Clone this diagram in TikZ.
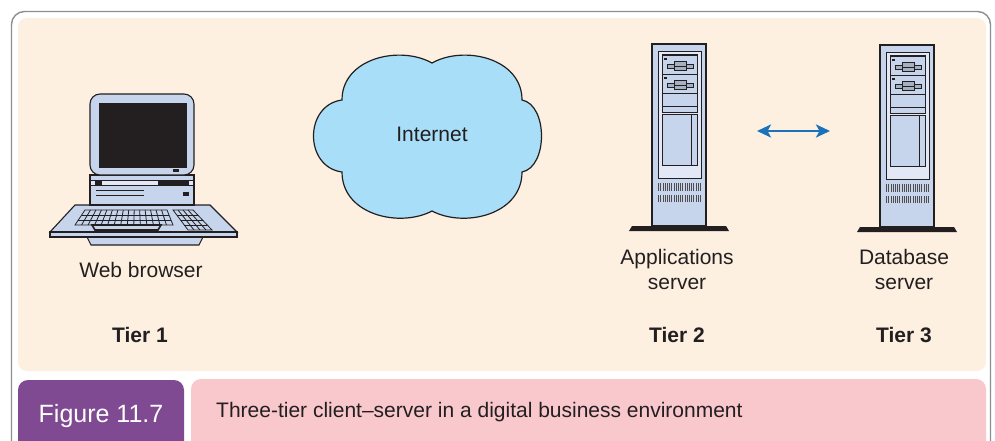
\documentclass[tikz,border=0pt]{standalone}
\usepackage{fontspec}
\setmainfont{Liberation Sans}
\usetikzlibrary{arrows.meta,calc}

\definecolor{frame}{HTML}{8E8E8E}
\definecolor{cream}{HTML}{FDF0E1}
\definecolor{ink}{HTML}{231F20}
\definecolor{figpurple}{HTML}{7F4A91}
\definecolor{capink}{HTML}{F9C8CC}
\definecolor{cloudblue}{HTML}{A8DEF8}
\definecolor{hwbody}{HTML}{C6D4EC}
\definecolor{hwpanel}{HTML}{E2E8F5}
\definecolor{linkblue}{HTML}{1A72BA}

\tikzset{
  label/.style={font=\fontsize{21}{25}\selectfont, text=ink, anchor=base, inner sep=0pt},
  tierlabel/.style={label, font=\fontsize{21}{25}\selectfont\bfseries},
  hw/.style={draw=ink, line width=1.1pt, fill=hwbody},
  hwline/.style={draw=ink, line width=0.9pt},
  keyline/.style={draw=ink, line width=0.8pt},
  vent/.style={draw=ink!80, line width=0.75pt},
  link/.style={draw=linkblue, line width=2.6pt,
    {Stealth[length=14pt,width=13pt,inset=3.5pt]}-{Stealth[length=14pt,width=13pt,inset=3.5pt]}},
  server/.pic={
    % floor plinth
    \fill[ink] (-23,187) -- (-20,182) -- (74,182) -- (77,187) -- cycle;
    % cabinet
    \path[hw] (0,0) rectangle (54,182);
    \path[hwline, fill=hwpanel] (6,7) rectangle (49,134);
    % drive bay
    \path[hwline, fill=hwbody] (10,10) rectangle (45,68);
    \draw[ink, line width=1.6pt] (10,11) -- (45,11);
    \draw[hwline] (10,30) -- (45,30) (10,49) -- (45,49) (10,62) -- (45,62);
    \fill[ink] (12,14) rectangle (15,16.5);
    \fill[ink] (12,33) rectangle (15,35.5);
    \foreach \yy in {20,39} {
      \path[hwline, fill=hwbody!80!ink] (15,\yy) rectangle (41,\yy+4);
      \path[hwline, fill=hwbody!80!ink] (22,\yy-2.5) rectangle (34,\yy+6.5);
      \draw[ink, line width=0.6pt] (22,\yy+2) -- (34,\yy+2);
    }
    % lower door
    \path[hwline, fill=hwbody] (10,70) rectangle (45,121);
    \draw[hwline] (39,70) -- (39,121);
    % ventilation slots
    \foreach \k in {0,...,19} {
      \draw[vent] (6.5+\k*2.2,139) -- (6.5+\k*2.2,147);
      \draw[vent] (6.5+\k*2.2,151) -- (6.5+\k*2.2,158);
    }
  }
}

\begin{document}
\begin{tikzpicture}[x=1pt, y=-1pt]
\clip (0,0) rectangle (995,441);
\fill[white] (0,0) rectangle (995,441);

% outer frame and content panel
\draw[frame, line width=1.4pt, rounded corners=13pt] (11.5,470) -- (11.5,11.5) -- (990.5,11.5) -- (990.5,470);
\fill[cream, rounded corners=9pt] (18,18) rectangle (986,371);

% caption bar
\fill[figpurple, rounded corners=10pt] (18,380) rectangle (184,470);
\fill[capink, rounded corners=10pt] (191,379) rectangle (986,470);
\node[label, text=white, font=\fontsize{25}{30}\selectfont] (figno) at (101,422) {Figure 11.7};
\node[label, anchor=base west] (caption) at (216,417.5) {Three-tier client–server in a digital business environment};

% ---------- Tier 1: desktop computer ----------
% keyboard tray and foot
\path[hw] (87,237) -- (203,237) -- (199,245) -- (91,245) -- cycle;
\path[hw] (75,205) -- (210,205) -- (237,232) -- (50,232) -- cycle;
\path[hw] (50,232) rectangle (237,237);
% main key block
\coordinate (kTL) at (85,210);
\coordinate (kTR) at (167,210);
\coordinate (kBL) at (75,225);
\coordinate (kBR) at (173,225);
\path[keyline, fill=hwbody] (kTL) -- (kTR) -- (kBR) -- (kBL) -- cycle;
\foreach \i in {1,...,14}
  \draw[keyline] ($(kTL)!\i/15!(kTR)$) -- ($(kBL)!\i/15!(kBR)$);
\foreach \j in {1,2}
  \draw[keyline] ($(kTL)!\j/3!(kBL)$) -- ($(kTR)!\j/3!(kBR)$);
\path[draw=ink, line width=1.6pt, fill=hwbody] (92,225) -- (161,225) -- (158,230) -- (95,230) -- cycle;
% numeric keypad
\coordinate (nTL) at (173,210);
\coordinate (nTR) at (193,210);
\coordinate (nBL) at (188,230);
\coordinate (nBR) at (212,230);
\path[keyline, fill=hwbody] (nTL) -- (nTR) -- (nBR) -- (nBL) -- cycle;
\foreach \i in {1,2,3}
  \draw[keyline] ($(nTL)!\i/4!(nTR)$) -- ($(nBL)!\i/4!(nBR)$);
\foreach \j in {1,2,3}
  \draw[keyline] ($(nTL)!\j/4!(nBL)$) -- ($(nTR)!\j/4!(nBR)$);
% system unit
\path[hw] (90,175) rectangle (194,205);
\fill[ink] (90,180) rectangle (194,185.5);
\fill[hwpanel] (91,181) rectangle (95,184.5);
\fill[hwpanel] (102,181) rectangle (158,184.5);
\fill[hwpanel] (189,181) rectangle (193,184.5);
\draw[hwline] (96,190) -- (144,190) (96,195) -- (144,195);
\fill[ink] (183,192) rectangle (189,196);
% monitor
\path[hw, rounded corners=10pt] (90,94) rectangle (194,175);
\path[draw=ink, line width=0.8pt, fill=ink] (99,103) rectangle (186,167);
\fill[ink] (173,169) rectangle (179,172);
\node[label] (browser) at (141,277) {Web browser};
\node[tierlabel] (tier1) at (140,342) {Tier 1};

% ---------- Internet cloud ----------
\path[draw=ink, line width=1.2pt, fill=cloudblue]
  (342,100) .. controls (342,58) and (400,45) .. (432,63)
            .. controls (464,45) and (522,58) .. (522,100)
            .. controls (548,105) and (548,167) .. (522,172)
            .. controls (522,215) and (464,228) .. (432,211)
            .. controls (400,228) and (342,215) .. (342,172)
            .. controls (304,167) and (304,105) .. (342,100) -- cycle;
\node[label] (internet) at (432,141) {Internet};

% ---------- Tier 2 and Tier 3: servers ----------
\pic (appsrv) at (652,44) {server};
\pic (dbsrv) at (880,45) {server};
\node[label] (applbl) at (677,264.5) {Applications};
\node[label] (appsrvlbl) at (677,289.5) {server};
\node[tierlabel] (tier2) at (677,342) {Tier 2};
\node[label] (dblbl) at (904,264.5) {Database};
\node[label] (dbsrvlbl) at (904,289.5) {server};
\node[tierlabel] (tier3) at (904,342) {Tier 3};

% link between application and database servers
\coordinate (linkL) at (757,131);
\coordinate (linkR) at (830,131);
\draw[link] (linkL) -- (linkR);
\end{tikzpicture}
\end{document}
